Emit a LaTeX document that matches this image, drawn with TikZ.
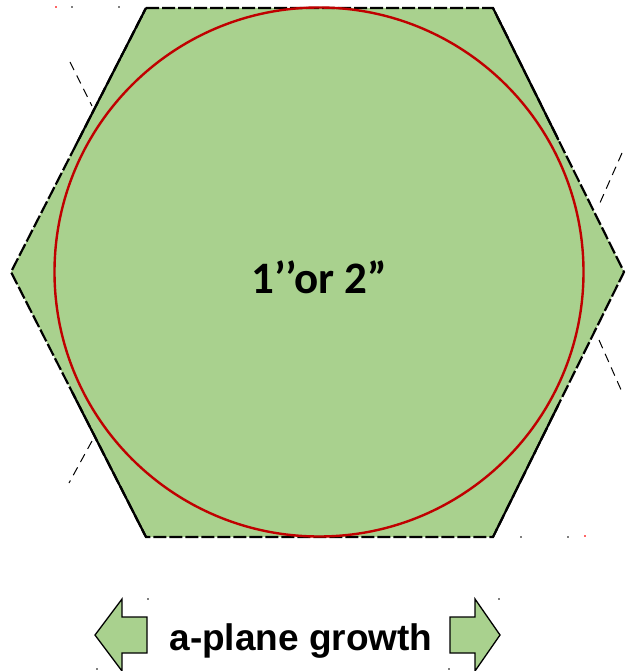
\documentclass[tikz,border=0pt]{standalone}
\usepackage{fontspec}
\setmainfont{Liberation Sans}
\newfontfamily\calfont{Carlito}
\usetikzlibrary{calc}
\definecolor{hexgreen}{HTML}{A9D18E}
\definecolor{ringred}{HTML}{C00000}
\tikzset{
  outlinedash/.style={draw=black,line width=2.2pt,dash pattern=on 13pt off 3pt},
  outlinesolid/.style={draw=black,line width=2.2pt},
  guidedash/.style={draw=black,line width=1pt,dash pattern=on 9pt off 6pt},
  ring/.style={draw=ringred,line width=2.4pt},
  growarrow/.style={fill=hexgreen,draw=black,line width=1.3pt,line join=miter},
  speck/.style={fill=#1,draw=none},
}
\begin{document}
\begin{tikzpicture}[x=1pt,y=-1pt]
\useasboundingbox (0,0) rectangle (626,671);
% hexagon corners
\coordinate (tl) at (146,8);
\coordinate (tr) at (493,8);
\coordinate (r) at (624,272);
\coordinate (br) at (493,537);
\coordinate (bl) at (146,537);
\coordinate (l) at (11,272);
\fill[hexgreen] (tl) -- (tr) -- (r) -- (br) -- (bl) -- (l) -- cycle;
\path[outlinedash] (tl) -- (tr) -- (r) -- (br) -- (bl) -- (l) -- cycle;
% solid stretches of the slanted edges
\path[outlinesolid] (tl) -- ($(tl)!0.52!(l)$);
\path[outlinesolid] (tr) -- ($(tr)!0.5!(r)$);
\path[outlinesolid] (br) -- ($(br)!0.5!(r)$);
\path[outlinesolid] (bl) -- ($(bl)!0.55!(l)$);
% guide lines
\coordinate (g1a) at (70,62);  \coordinate (g1b) at (92,106);
\coordinate (g2a) at (622,153); \coordinate (g2b) at (599,205);
\coordinate (g3a) at (599,340); \coordinate (g3b) at (622,392);
\coordinate (g4a) at (92,441); \coordinate (g4b) at (69,483);
\path[guidedash] (g1a) -- (g1b);
\path[guidedash] (g2a) -- (g2b);
\path[guidedash] (g3a) -- (g3b);
\path[guidedash] (g4a) -- (g4b);
% circle
\coordinate (c) at (319,272);
\path[ring] (c) circle[radius=264.5];
\node[font=\calfont\bfseries\fontsize{45}{52}\selectfont,anchor=base,inner sep=0pt] (size) at (319,293) {1’’or 2”};
% arrows
\path[growarrow] (95,635) -- (122,599) -- (122,617) -- (147,617) -- (147,653) -- (122,653) -- (122,671) -- cycle;
\path[growarrow] (500,635) -- (475,599) -- (475,617) -- (450,617) -- (450,653) -- (475,653) -- (475,671) -- cycle;
\node[font=\bfseries\fontsize{37}{42}\selectfont,anchor=base,inner sep=0pt] (growth) at (301,650) {a-plane growth};
% specks
\fill[speck=red!60] (55,6) rectangle (57,8);
\fill[speck=gray] (71,6) rectangle (73,8);
\fill[speck=gray] (118,6) rectangle (120,8);
\fill[speck=gray] (520,536) rectangle (522,538);
\fill[speck=gray] (567,536) rectangle (569,538);
\fill[speck=red!60] (584,535) rectangle (586,537);
\fill[speck=gray] (147,598) rectangle (148.5,599.5);
\fill[speck=gray] (498,598) rectangle (499.5,599.5);
\fill[speck=gray] (96,668) rectangle (97.5,669.5);
\fill[speck=gray] (448,668) rectangle (449.5,669.5);
\end{tikzpicture}
\end{document}
